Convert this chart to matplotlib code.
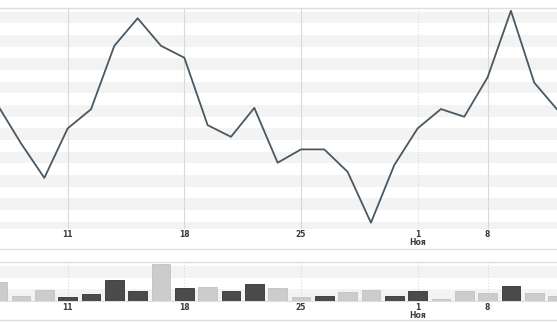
#!/usr/bin/env python3

import numpy as np
import matplotlib
matplotlib.use('Agg')
import matplotlib.pyplot as plt
from matplotlib.lines import Line2D

# trading days shown on the chart
dates = ['2010-10-06', '2010-10-07', '2010-10-08',
		 '2010-10-11', '2010-10-12', '2010-10-13', '2010-10-14', '2010-10-15',
		 '2010-10-18', '2010-10-19', '2010-10-20', '2010-10-21', '2010-10-22',
		 '2010-10-25', '2010-10-26', '2010-10-27', '2010-10-28', '2010-10-29',
		 '2010-11-01', '2010-11-02', '2010-11-03',
		 '2010-11-08', '2010-11-09', '2010-11-10', '2010-11-11']

close = [25.50, 23.86, 22.38, 24.50, 25.32, 28.04, 29.22, 28.04, 27.53,
		 24.64, 24.14, 25.38, 23.03, 23.60, 23.60, 22.64, 20.46, 22.93,
		 24.50, 25.33, 25.00, 26.69, 29.54, 26.46, 25.29]

volume = [826, 217, 478, 174, 278, 900, 409, 1609, 539, 583, 409, 713, 539,
		  161, 217, 378, 465, 191, 409, 87, 409, 322, 639, 348, 191]

# 1 = dark bar, 0 = light bar
volume_dark = [0, 0, 0, 1, 1, 1, 1, 0, 1, 0, 1, 1, 0,
			   0, 1, 0, 0, 1, 1, 0, 0, 0, 1, 0, 0]

tick_dates = ['2010-10-11', '2010-10-18', '2010-10-25', '2010-11-01', '2010-11-08']
tick_labels = ['11', '18', '25', '1\nНоя', '8']

W, H = 557, 322
BAND = '#f3f3f3'
FRAME = '#dedede'


def stripes(ax, lo, hi, step):
	"""
	Alternate grey bands between horizontal grid steps
	"""
	for y in np.arange(lo, hi, step * 2):
		ax.axhspan(y, y + step, color=BAND, lw=0, zorder=0)


def setup_axis(ax, ticks, solid):
	"""
	Common look for both panels
	"""
	ax.set_xlim(0.1, 0.1 + W / 23.33)
	ax.set_yticks([])
	for s in ['left', 'right', 'bottom', 'top']:
		ax.spines[s].set_visible(False)
	ax.spines['top'].set_visible(True)
	ax.spines['top'].set_color(FRAME)
	ax.spines['top'].set_linewidth(1.0)
	for pos, lab in zip(ticks, tick_labels):
		ls = '-' if (solid and '\n' not in lab) else ':'
		ax.axvline(pos, color='#d9d9d9', lw=0.8, ls=ls, zorder=1)
	ax.set_xticks(ticks)
	ax.set_xticklabels(tick_labels, fontsize=5.5, fontweight='bold',
					   color='#3c3c3c', linespacing=0.85)
	ax.tick_params(axis='x', length=0)


def main():
	x = np.arange(len(dates))
	ticks = [dates.index(d) for d in tick_dates]

	fig = plt.figure(figsize=(W / 100, H / 100), dpi=100)

	# price panel
	ax = fig.add_axes([0, 1 - 229 / H, 1, 221 / H])
	stripes(ax, 20, 30, 0.5)
	ax.plot(x, close, color='#4a5862', lw=1.3, zorder=3)
	ax.set_ylim(20.19, 29.66)
	setup_axis(ax, ticks, True)
	ax.tick_params(axis='x', pad=0.8)

	# volume panel
	av = fig.add_axes([0, 1 - 300.7 / H, 1, 38.4 / H])
	stripes(av, 0, 2000, 500)
	colors = ['#4b4b4b' if d else '#cccccc' for d in volume_dark]
	edges = ['#333333' if d else '#c2c2c2' for d in volume_dark]
	av.bar(x, volume, width=0.8, color=colors, edgecolor=edges, lw=0.6, zorder=3)
	av.set_ylim(0, 1670)
	setup_axis(av, ticks, False)
	av.spines['bottom'].set_visible(True)
	av.spines['bottom'].set_color(FRAME)
	av.tick_params(axis='x', pad=1.5)

	# outer frame lines
	for ypx in [249, 320.3]:
		fig.add_artist(Line2D([0, 1], [1 - ypx / H, 1 - ypx / H],
							  color=FRAME, lw=1.0))

	fig.savefig('out.png', dpi=100)


if __name__ == '__main__':
	main()
